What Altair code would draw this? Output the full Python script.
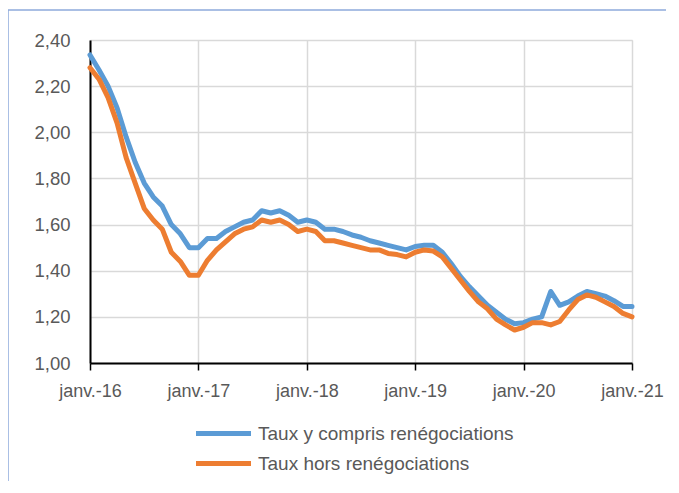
import altair as alt
import pandas as pd

months = list(range(61))  # janv.-16 ... janv.-21
series_names = ["Taux y compris renégociations", "Taux hors renégociations"]
blue_vals = [2.335, 2.27, 2.20, 2.105, 1.98, 1.87, 1.78, 1.72, 1.68, 1.60, 1.56, 1.50,
             1.50, 1.54, 1.54, 1.57, 1.59, 1.61, 1.62, 1.66, 1.65, 1.66, 1.64, 1.61,
             1.62, 1.61, 1.58, 1.58, 1.57, 1.555, 1.545, 1.53, 1.52, 1.51, 1.50, 1.49,
             1.505, 1.51, 1.51, 1.48, 1.43, 1.375, 1.33, 1.29, 1.25, 1.22, 1.19, 1.17,
             1.175, 1.19, 1.20, 1.31, 1.25, 1.265, 1.29, 1.31, 1.30, 1.29, 1.27, 1.245, 1.245]
orange_vals = [2.28, 2.23, 2.15, 2.04, 1.89, 1.78, 1.67, 1.62, 1.58, 1.48, 1.44, 1.38,
               1.38, 1.445, 1.49, 1.525, 1.56, 1.58, 1.59, 1.62, 1.61, 1.62, 1.60, 1.57,
               1.58, 1.57, 1.53, 1.53, 1.52, 1.51, 1.50, 1.49, 1.49, 1.475, 1.47, 1.46,
               1.48, 1.49, 1.485, 1.46, 1.41, 1.36, 1.31, 1.265, 1.235, 1.19, 1.165, 1.143,
               1.155, 1.175, 1.175, 1.165, 1.18, 1.23, 1.275, 1.295, 1.285, 1.265, 1.245, 1.215, 1.20]
colors = ["#5B9BD5", "#ED7D31"]
x_ticks = [0, 12, 24, 36, 48, 60]
y_ticks = [1.0, 1.2, 1.4, 1.6, 1.8, 2.0, 2.2, 2.4]

df_blue = pd.DataFrame({"m": months, "v": blue_vals, "s": series_names[0]})
df_orange = pd.DataFrame({"m": months, "v": orange_vals, "s": series_names[1]})

FONT = "Liberation Sans"
TXT = "#595959"

x_enc = alt.X("m:Q", scale=alt.Scale(domain=[0, 60], nice=False, zero=False),
              axis=alt.Axis(values=x_ticks, title=None,
                            labelExpr="'janv.-' + (16 + datum.value/12)",
                            grid=True, gridColor="#D9D9D9", gridWidth=1.5,
                            domainColor="#000000", domainWidth=2,
                            ticks=True, tickColor="#000000", tickSize=7, tickWidth=1.5,
                            labelFont=FONT, labelFontSize=18, labelColor=TXT,
                            labelBaseline="alphabetic", labelPadding=26, labelFlush=False))
y_enc = alt.Y("v:Q", scale=alt.Scale(domain=[1.0, 2.4], nice=False, zero=False),
              axis=alt.Axis(values=y_ticks, title=None,
                            labelExpr="replace(format(datum.value, '.2f'), '.', ',')",
                            grid=True, gridColor="#D9D9D9", gridWidth=1.5,
                            domainColor="#000000", domainWidth=2, ticks=False,
                            labelFont=FONT, labelFontSize=18.5, labelColor=TXT,
                            labelPadding=20))
color_enc = alt.Color("s:N", scale=alt.Scale(domain=series_names, range=colors),
                      legend=alt.Legend(title=None, orient="none", legendX=120, legendY=380,
                                        symbolType="M-2.5,0H2.5", symbolSize=484,
                                        symbolStrokeWidth=5, labelOffset=21, rowPadding=6,
                                        labelFont=FONT, labelFontSize=19, labelColor=TXT,
                                        labelLimit=0, padding=0))

line_style = dict(strokeWidth=5, strokeCap="round", strokeJoin="round")
blue_line = alt.Chart(df_blue).mark_line(**line_style).encode(x=x_enc, y=y_enc, color=color_enc)
orange_line = alt.Chart(df_orange).mark_line(**line_style).encode(x=x_enc, y=y_enc, color=color_enc)

one = pd.DataFrame({"a": [0]})
frame_top = alt.Chart(one).mark_rule(stroke="#8EAADB", strokeWidth=1.5, clip=False).encode(
    x=alt.value(-82), x2=alt.value(1000), y=alt.value(-30))
frame_left = alt.Chart(one).mark_rule(stroke="#8EAADB", strokeWidth=1.5, clip=False).encode(
    x=alt.value(-82), y=alt.value(-30), y2=alt.value(1000))

chart = alt.layer(frame_top, frame_left, blue_line, orange_line).properties(
    width=542, height=323,
    autosize=alt.AutoSizeParams(type="none"),
    padding={"left": 82, "top": 32, "right": 34, "bottom": 118},
).configure_view(stroke="#000000", strokeWidth=2).configure(background="white")

chart.save("out.html", embed_options={"renderer": "svg", "actions": False})
